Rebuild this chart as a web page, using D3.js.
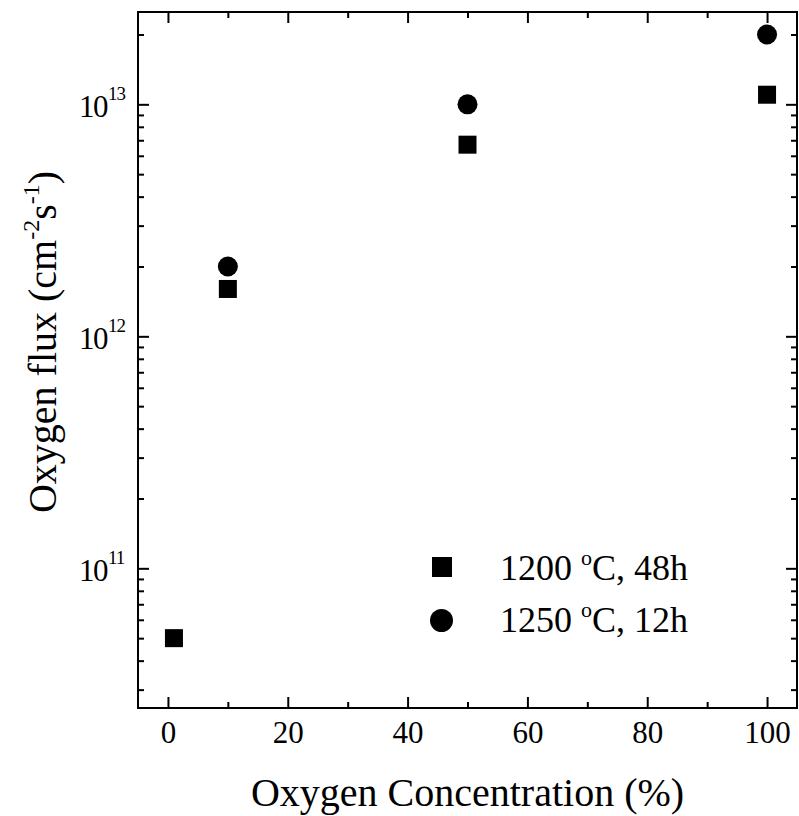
<!DOCTYPE html>
<html>
<head>
<meta charset="utf-8">
<script src="https://cdn.jsdelivr.net/npm/d3@7"></script>
<style>
  html, body { margin: 0; padding: 0; background: #fff; }
  svg text { font-family: "Liberation Serif", "Times New Roman", "DejaVu Serif", serif !important; fill: #000; }
</style>
</head>
<body>
<svg id="chart" width="799" height="816"></svg>
<script>
// ---- data ----
const seriesNames = ["1200", "1250"];
const seriesDur = ["48h", "12h"];
const concA = [1, 10, 50, 100];
const fluxA = [5e10, 1.6e12, 6.7e12, 1.1e13];
const concB = [10, 50, 100];
const fluxB = [2e12, 1e13, 2e13];
const xMajor = [0, 20, 40, 60, 80, 100];
const xMinor = [10, 30, 50, 70, 90];
const yMajorExp = [11, 12, 13];

// ---- layout ----
const svg = d3.select("#chart");
const L = 138, R = 797, T = 12, B = 708;
const x = d3.scaleLinear().domain([-5, 105]).range([L, R]);
const y = d3.scaleLog().domain([2.5e10, 2.5e13]).range([B, T]);

const yMajor = yMajorExp.map(e => Math.pow(10, e));
const yMinor = [];
for (let e = 10; e <= 13; e++) for (let m = 2; m <= 9; m++) {
  const v = m * Math.pow(10, e);
  if (v >= y.domain()[0] && v <= y.domain()[1]) yMinor.push(v);
}

function styleAxis(g) {
  g.selectAll("line").attr("stroke", "#000").attr("stroke-width", 2);
  g.select(".domain").remove();
}
const MAJ = 11, MIN = 6;
// bottom
svg.append("g").attr("transform", `translate(0,${B})`)
  .call(d3.axisBottom(x).tickValues(xMajor).tickSize(-MAJ).tickFormat(d3.format("d")))
  .call(styleAxis)
  .call(g => g.selectAll("text").attr("font-size", 31).attr("y", 35).attr("dy", 0));
svg.append("g").attr("transform", `translate(0,${B})`)
  .call(d3.axisBottom(x).tickValues(xMinor).tickSize(-MIN).tickFormat(""))
  .call(styleAxis);
// top
svg.append("g").attr("transform", `translate(0,${T})`)
  .call(d3.axisTop(x).tickValues(xMajor).tickSize(-MAJ).tickFormat(""))
  .call(styleAxis);
svg.append("g").attr("transform", `translate(0,${T})`)
  .call(d3.axisTop(x).tickValues(xMinor).tickSize(-MIN).tickFormat(""))
  .call(styleAxis);
// left
svg.append("g").attr("transform", `translate(${L},0)`)
  .call(d3.axisLeft(y).tickValues(yMajor).tickSize(-MAJ).tickFormat(""))
  .call(styleAxis);
svg.append("g").attr("transform", `translate(${L},0)`)
  .call(d3.axisLeft(y).tickValues(yMinor).tickSize(-MIN).tickFormat(""))
  .call(styleAxis);
// right
svg.append("g").attr("transform", `translate(${R},0)`)
  .call(d3.axisRight(y).tickValues(yMajor).tickSize(-MAJ).tickFormat(""))
  .call(styleAxis);
svg.append("g").attr("transform", `translate(${R},0)`)
  .call(d3.axisRight(y).tickValues(yMinor).tickSize(-MIN).tickFormat(""))
  .call(styleAxis);

// frame
svg.append("rect").attr("x", L).attr("y", T).attr("width", R - L).attr("height", B - T)
  .attr("fill", "none").attr("stroke", "#000").attr("stroke-width", 2);

// y tick labels 10^e
yMajorExp.forEach(e => {
  const t = svg.append("text").attr("x", 79).attr("y", y(Math.pow(10, e)) + 13)
    .attr("font-size", 31);
  t.append("tspan").text("10").attr("letter-spacing", -1.5);
  t.append("tspan").text(String(e)).attr("font-size", 19).attr("dy", -17).attr("dx", 1).attr("letter-spacing", -1);
});

// data
svg.append("g").selectAll("rect").data(concA.map((c, i) => [c, fluxA[i]])).join("rect")
  .attr("x", d => x(d[0]) - 9).attr("y", d => y(d[1]) - 9)
  .attr("width", 18).attr("height", 18).attr("fill", "#000");
svg.append("g").selectAll("circle").data(concB.map((c, i) => [c, fluxB[i]])).join("circle")
  .attr("cx", d => x(d[0])).attr("cy", d => y(d[1])).attr("r", 10).attr("fill", "#000");

// legend
const lg = svg.append("g");
lg.append("rect").attr("x", 432).attr("y", 557).attr("width", 20).attr("height", 20).attr("fill", "#000");
lg.append("circle").attr("cx", 441.5).attr("cy", 620.5).attr("r", 11.5).attr("fill", "#000");
[[580, 0], [632, 1]].forEach(([by, i]) => {
  const t = lg.append("text").attr("x", 500).attr("y", by).attr("font-size", 36);
  t.append("tspan").text(seriesNames[i] + " ");
  t.append("tspan").text("o").attr("font-size", 22).attr("dy", -15);
  t.append("tspan").text("C, " + seriesDur[i]).attr("dy", 15);
});

// axis titles
svg.append("text").attr("x", (L + R) / 2).attr("y", 806).attr("text-anchor", "middle")
  .attr("font-size", 40).text("Oxygen Concentration (%)");
const yt = svg.append("text").attr("transform", `translate(56,342) rotate(-90)`)
  .attr("text-anchor", "middle").attr("font-size", 40);
yt.append("tspan").text("Oxygen flux (cm");
yt.append("tspan").text("-2").attr("font-size", 24).attr("dy", -17);
yt.append("tspan").text("s").attr("dy", 17);
yt.append("tspan").text("-1").attr("font-size", 24).attr("dy", -17);
yt.append("tspan").text(")").attr("dy", 17);
</script>
</body>
</html>
